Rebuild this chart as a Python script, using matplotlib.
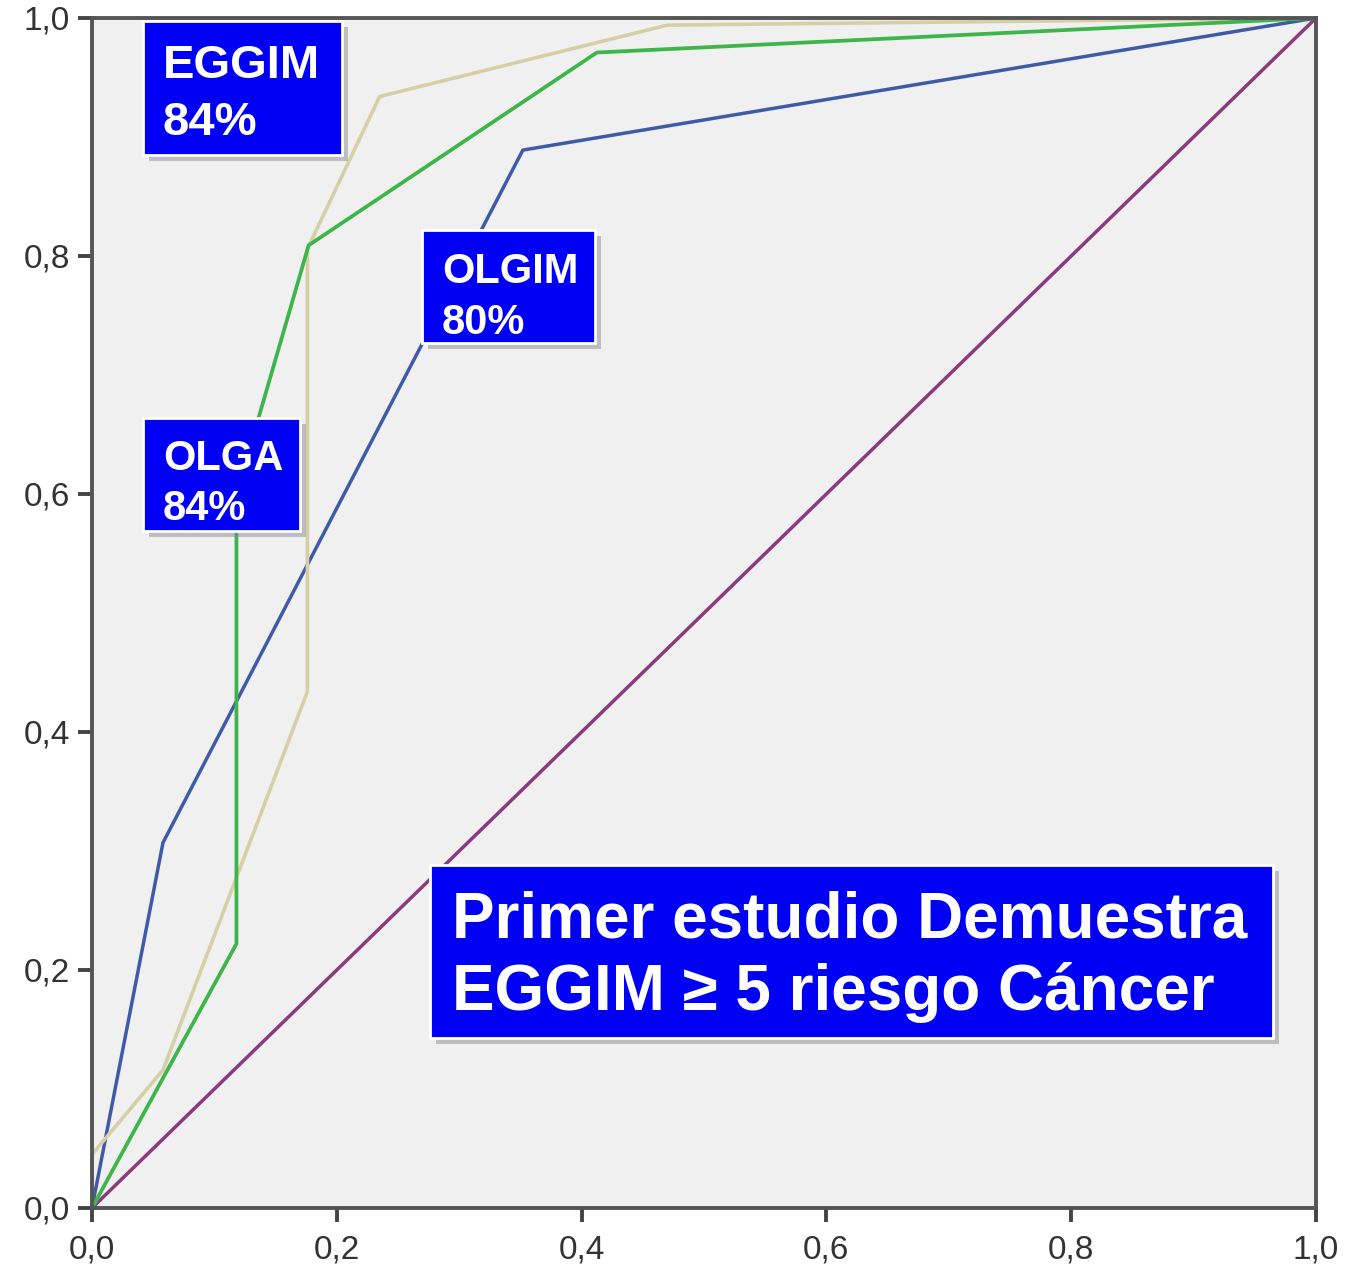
import matplotlib.pyplot as plt
from matplotlib.patches import Rectangle

plt.rcParams["font.family"] = ["Liberation Sans", "DejaVu Sans"]

# ROC curves (1 - specificity, sensitivity)
eggim_x = [0.0, 0.0, 0.058, 0.176, 0.176, 0.235, 0.47, 1.0]
eggim_y = [0.0, 0.045, 0.116, 0.434, 0.806, 0.934, 0.994, 1.0]

olga_x = [0.0, 0.118, 0.118, 0.177, 0.4125, 1.0]
olga_y = [0.0, 0.222, 0.60, 0.809, 0.971, 1.0]

olgim_x = [0.0, 0.058, 0.352, 1.0]
olgim_y = [0.0, 0.307, 0.889, 1.0]

ref_x = [0.0, 1.0]
ref_y = [0.0, 1.0]

ticks = [0.0, 0.2, 0.4, 0.6, 0.8, 1.0]
tick_labels = ["0,0", "0,2", "0,4", "0,6", "0,8", "1,0"]

W, H = 1350, 1273
fig = plt.figure(figsize=(W / 100, H / 100), dpi=100)
ax = fig.add_axes([92 / W, 1 - 1208 / H, (1316 - 92) / W, (1208 - 18) / H])
ax.set_facecolor("#f0f0f0")

ax.plot(ref_x, ref_y, color="#8a3a7e", linewidth=2.5)
ax.plot(olgim_x, olgim_y, color="#3f5aa6", linewidth=2.5)
ax.plot(eggim_x, eggim_y, color="#d6cfa6", linewidth=2.6)
ax.plot(olga_x, olga_y, color="#3db54a", linewidth=2.7)

ax.set_xlim(0, 1)
ax.set_ylim(0, 1)
ax.set_xticks(ticks)
ax.set_xticklabels(tick_labels)
ax.set_yticks(ticks)
ax.set_yticklabels(tick_labels)
ax.tick_params(direction="out", length=10, width=2.8, color="#444444",
               labelsize=24, labelcolor="#333333", pad=6)
ax.tick_params(axis="x", pad=9)
for s in ax.spines.values():
    s.set_linewidth(2.8)
    s.set_color("#555555")


def px(x, y):
    return x / W, 1 - y / H


def box(x0, y0, x1, y1):
    # drop shadow then blue box with white border, in figure pixels
    fx, fy = px(x0 + 6, y1 + 6)
    fig.patches.append(Rectangle((fx, fy), (x1 - x0) / W, (y1 - y0) / H,
                                 transform=fig.transFigure, facecolor="#808080",
                                 alpha=0.45, edgecolor="none", zorder=5))
    fx, fy = px(x0, y1)
    fig.patches.append(Rectangle((fx, fy), (x1 - x0) / W, (y1 - y0) / H,
                                 transform=fig.transFigure, facecolor="#0000f5",
                                 edgecolor="white", linewidth=2, zorder=6))


def label(x, y, s, size):
    fx, fy = px(x, y)
    fig.text(fx, fy, s, color="white", fontsize=size, fontweight="bold",
             ha="left", va="baseline", zorder=7)


box(143, 21, 342, 155)
label(163, 78, "EGGIM", 34)
label(163, 135, "84%", 34)

box(422, 230, 595, 343)
label(442, 283, "OLGIM", 30)
label(442, 334, "80%", 30)

box(143, 418, 300, 531)
label(163, 470, "OLGA", 30)
label(163, 520, "84%", 30)

box(430, 865, 1273, 1038)
label(452, 937, "Primer estudio Demuestra", 46)
label(452, 1010, "EGGIM \u2265 5 riesgo C\u00e1ncer", 46)

fig.savefig("out.png", dpi=100)
